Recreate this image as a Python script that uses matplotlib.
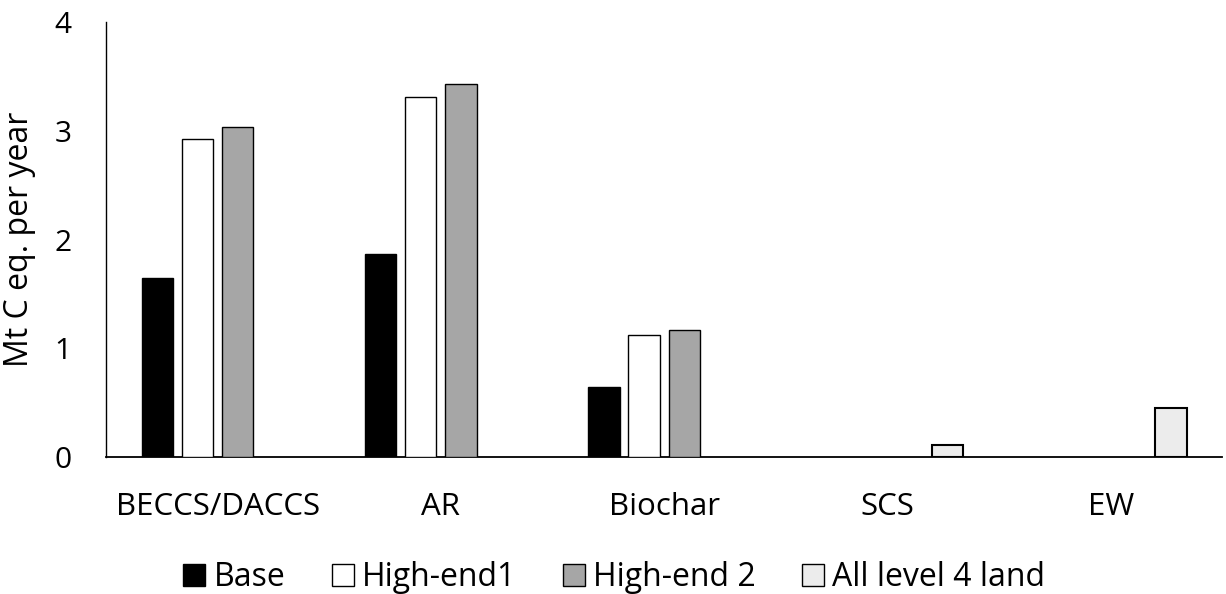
import matplotlib
matplotlib.use("Agg")
import matplotlib.pyplot as plt
import numpy as np
from matplotlib.patches import Patch

plt.rcParams['font.family'] = ['Open Sans', 'DejaVu Sans']

categories = ["BECCS/DACCS", "AR", "Biochar", "SCS", "EW"]
series_names = ["Base", "High-end1", "High-end 2", "All level 4 land"]
base = [1.65, 1.87, 0.64, 0.0, 0.0]
high_end1 = [2.92, 3.31, 1.12, 0.0, 0.0]
high_end2 = [3.03, 3.43, 1.17, 0.0, 0.0]
all_level4 = [0.0, 0.0, 0.0, 0.11, 0.45]
yticks = [0, 1, 2, 3, 4]

series = [base, high_end1, high_end2, all_level4]
colors = ["#000000", "#ffffff", "#a6a6a6", "#ececec"]

fig = plt.figure(figsize=(12.26, 5.94), dpi=100)
ax = fig.add_axes([0.0865, 0.2306, 0.9105, 0.7324])

x = np.arange(len(categories))
slot = 0.18
width = 0.14
for i, (vals, c) in enumerate(zip(series, colors)):
    offs = (i - 1.5) * slot
    xs = [xi + offs for xi, v in zip(x, vals) if v > 0]
    vs = [v for v in vals if v > 0]
    ax.bar(xs, vs, width=width, color=c, edgecolor="#000000", linewidth=1.5 if i == 3 else 1.0, zorder=3)

ax.set_xlim(-0.5, len(categories) - 0.5)
ax.set_ylim(0, 4)
ax.set_yticks(yticks)
ax.set_yticklabels([str(t) for t in yticks], fontsize=21.5)
ax.set_xticks(x)
ax.set_xticklabels(categories, fontsize=22.5)
ax.tick_params(axis='both', length=0)
ax.tick_params(axis='y', pad=25)
ax.tick_params(axis='x', pad=25)
for s in ["top", "right"]:
    ax.spines[s].set_visible(False)
ax.spines["left"].set_color("#000000")
ax.spines["left"].set_linewidth(1.0)
ax.spines["bottom"].set_color("#000000")
ax.spines["bottom"].set_linewidth(1.3)
ax.set_ylabel("Mt C eq. per year", fontsize=23)
ax.yaxis.set_label_coords(-0.063, 0.5)

handles = [Patch(facecolor=c, edgecolor="#000000", linewidth=1.0) for c in colors]
fig.legend(handles, series_names, loc="center", bbox_to_anchor=(0.501, 0.028), ncol=4,
           frameon=False, fontsize=23, handlelength=0.7, handleheight=0.7,
           handletextpad=0.25, columnspacing=1.45, borderpad=0)

fig.savefig("out.png", dpi=100)
